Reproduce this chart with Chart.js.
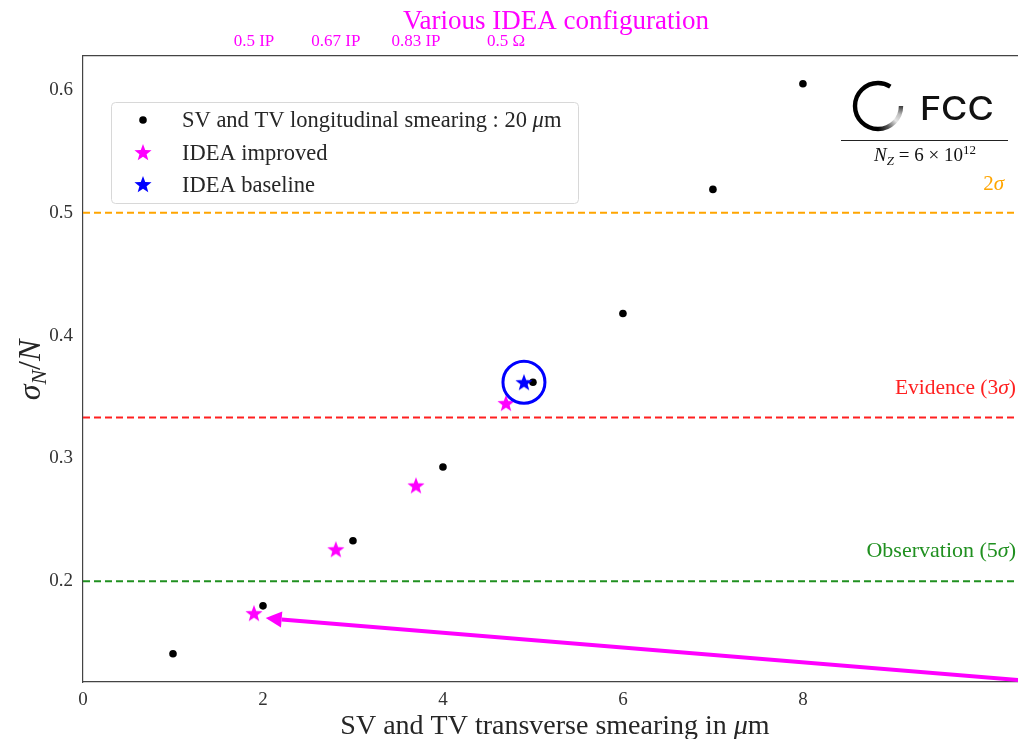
<!DOCTYPE html>
<html>
<head>
<meta charset="utf-8">
<script src="https://cdn.jsdelivr.net/npm/chart.js@4.4.1/dist/chart.umd.min.js"></script>
<style>
  html, body { margin: 0; padding: 0; background: #fff; overflow: hidden; }
  #wrap { width: 1018px; height: 739px; position: relative; }
</style>
</head>
<body>
<div id="wrap"><canvas id="c" width="1018" height="739"></canvas></div>
<script>
// Transverse smearing scan (longitudinal smearing fixed at 20 um)
const smearX = [1, 2, 3, 4, 5, 6, 7, 8];
const smearSigma = [0.141, 0.180, 0.233, 0.293, 0.362, 0.418, 0.519, 0.605];

// IDEA detector configurations
const improvedX = [1.9, 2.81, 3.7, 4.7];
const improvedSigma = [0.174, 0.226, 0.278, 0.345];
const baselineX = [4.9];
const baselineSigma = [0.362];

// Top axis: configuration names
const configTicks = [1.9, 2.81, 3.7, 4.7];
const configLabels = ['0.5 IP', '0.67 IP', '0.83 IP', '0.5 \u03A9'];

// Significance thresholds
const thresholdValues = [0.5, 1 / 3, 0.2];
const thresholdColors = ['#ffa500', '#ff2020', '#209020'];

// Bottom / left axis ticks
const xTicks = [0, 2, 4, 6, 8];
const yTicks = [0.2, 0.3, 0.4, 0.5, 0.6];

// Pointer arrow (tail -> head) in data coordinates
const arrowX = [10.4, 2.03];
const arrowY = [0.1195, 0.170];

const X_MIN = 0, X_MAX = 10.39;
const Y_MIN = 0.118, Y_MAX = 0.6276;
const SERIF = '"Liberation Serif", "DejaVu Serif", serif';

function starPath(g, cx, cy, r) {
  g.beginPath();
  for (let i = 0; i < 10; i++) {
    const rad = i % 2 === 0 ? r : r * 0.42;
    const a = -Math.PI / 2 + i * Math.PI / 5;
    const px = cx + rad * Math.cos(a), py = cy + rad * Math.sin(a);
    if (i === 0) g.moveTo(px, py); else g.lineTo(px, py);
  }
  g.closePath();
}

function starImage(color, r) {
  const size = Math.ceil(r * 2 + 2);
  const c = document.createElement('canvas');
  c.width = size; c.height = size;
  const g = c.getContext('2d');
  starPath(g, size / 2, size / 2 + r * 0.08, r);
  g.fillStyle = color;
  g.fill();
  return c;
}
const magentaStar = starImage('#ff00ff', 9);
const blueStar = starImage('#0000ff', 9);

const pts = (xs, ys) => xs.map((x, i) => ({ x, y: ys[i] }));

const datasets = [];
thresholdValues.forEach((v, i) => {
  datasets.push({
    type: 'line',
    data: [{ x: X_MIN, y: v }, { x: X_MAX, y: v }],
    borderColor: thresholdColors[i],
    borderWidth: 2,
    borderDash: [7, 4],
    pointRadius: 0,
    order: 10
  });
});
datasets.push({
  data: pts(smearX, smearSigma),
  pointStyle: 'circle', pointRadius: 3.8,
  backgroundColor: '#000', borderColor: '#000', borderWidth: 0, order: 5
});
datasets.push({
  data: pts(improvedX, improvedSigma),
  pointStyle: magentaStar, order: 4
});
datasets.push({
  data: pts(baselineX, baselineSigma),
  pointStyle: blueStar, order: 3
});
// ring highlighting the baseline configuration
datasets.push({
  data: pts(baselineX, baselineSigma),
  pointStyle: 'circle', pointRadius: 21,
  backgroundColor: 'rgba(0,0,0,0)', borderColor: '#0000ff', borderWidth: 3, order: 2
});

// Draws a run of text pieces; each piece may be italic, subscript or superscript.
function richText(ctx, pieces, x, y, align) {
  let total = 0;
  const fonts = pieces.map(p => {
    const f = (p.italic ? 'italic ' : '') + (p.weight ? p.weight + ' ' : '') + p.size + 'px ' + (p.family || SERIF);
    ctx.font = f;
    const w = ctx.measureText(p.t).width;
    total += w;
    return { f, w };
  });
  let cx = align === 'center' ? x - total / 2 : align === 'right' ? x - total : x;
  ctx.textAlign = 'left';
  pieces.forEach((p, i) => {
    ctx.font = fonts[i].f;
    ctx.fillStyle = p.color;
    ctx.fillText(p.t, cx, y + (p.dy || 0));
    cx += fonts[i].w;
  });
}

const decorations = {
  id: 'decorations',
  afterDatasetsDraw(chart) {
    const ctx = chart.ctx;
    const xs = chart.scales.x, ys = chart.scales.y;
    // arrow
    const x1 = xs.getPixelForValue(arrowX[0]), y1 = ys.getPixelForValue(arrowY[0]);
    const x2 = xs.getPixelForValue(arrowX[1]), y2 = ys.getPixelForValue(arrowY[1]);
    const ang = Math.atan2(y2 - y1, x2 - x1);
    const headLen = 16, headW = 8;
    const bx = x2 - headLen * Math.cos(ang), by = y2 - headLen * Math.sin(ang);
    ctx.save();
    ctx.strokeStyle = '#ff00ff';
    ctx.fillStyle = '#ff00ff';
    ctx.lineWidth = 4;
    ctx.beginPath();
    ctx.moveTo(x1, y1);
    ctx.lineTo(bx, by);
    ctx.stroke();
    ctx.beginPath();
    ctx.moveTo(x2, y2);
    ctx.lineTo(bx + headW * Math.sin(ang), by - headW * Math.cos(ang));
    ctx.lineTo(bx - headW * Math.sin(ang), by + headW * Math.cos(ang));
    ctx.closePath();
    ctx.fill();
    ctx.restore();
  },
  afterDraw(chart) {
    const ctx = chart.ctx;
    ctx.save();
    ctx.textBaseline = 'alphabetic';
    const ink = '#262626';

    // top title
    richText(ctx, [{ t: 'Various IDEA configuration', size: 27, color: '#ff00ff' }], 556, 29, 'center');

    // x axis title
    richText(ctx, [
      { t: 'SV and TV transverse smearing in ', size: 28, color: ink },
      { t: '\u03BC', size: 28, italic: true, color: ink },
      { t: 'm', size: 28, color: ink }
    ], 555, 734, 'center');

    // y axis title
    ctx.save();
    ctx.translate(40, 370);
    ctx.rotate(-Math.PI / 2);
    richText(ctx, [
      { t: '\u03C3', size: 32, italic: true, color: ink },
      { t: 'N', size: 22, italic: true, color: ink, dy: 6 },
      { t: '/', size: 32, color: ink },
      { t: 'N', size: 32, italic: true, color: ink }
    ], 0, 0, 'center');
    ctx.restore();

    // threshold labels
    richText(ctx, [{ t: '2', size: 21, color: '#ffa500' }, { t: '\u03C3', size: 21, italic: true, color: '#ffa500' }], 1004, 190, 'right');
    richText(ctx, [{ t: 'Evidence (3', size: 21.5, color: '#ff2020' }, { t: '\u03C3', size: 21.5, italic: true, color: '#ff2020' }, { t: ')', size: 21.5, color: '#ff2020' }], 1016, 394, 'right');
    richText(ctx, [{ t: 'Observation (5', size: 22, color: '#209020' }, { t: '\u03C3', size: 22, italic: true, color: '#209020' }, { t: ')', size: 22, color: '#209020' }], 1016, 557, 'right');

    // legend
    const lx = 111, ly = 102, lw = 467, lh = 101;
    ctx.beginPath();
    ctx.roundRect(lx + 0.5, ly + 0.5, lw, lh, 4);
    ctx.fillStyle = 'rgba(255,255,255,0.8)';
    ctx.fill();
    ctx.strokeStyle = '#d8d8d8';
    ctx.lineWidth = 1;
    ctx.stroke();
    ctx.beginPath();
    ctx.arc(143, 120, 3.8, 0, Math.PI * 2);
    ctx.fillStyle = '#000';
    ctx.fill();
    starPath(ctx, 143, 153, 9); ctx.fillStyle = '#ff00ff'; ctx.fill();
    starPath(ctx, 143, 185, 9); ctx.fillStyle = '#0000ff'; ctx.fill();
    richText(ctx, [
      { t: 'SV and TV longitudinal smearing : 20 ', size: 22.5, color: ink },
      { t: '\u03BC', size: 22.5, italic: true, color: ink },
      { t: 'm', size: 22.5, color: ink }
    ], 182, 127, 'left');
    richText(ctx, [{ t: 'IDEA improved', size: 22.5, color: ink }], 182, 160, 'left');
    richText(ctx, [{ t: 'IDEA baseline', size: 22.5, color: ink }], 182, 192, 'left');

    // FCC logo: open ring with a faded lower-right sweep
    const lcx = 878, lcy = 106, lr = 23;
    const a0 = 0.0 * Math.PI, a1 = 1.68 * Math.PI;
    ctx.lineWidth = 4.4;
    ctx.beginPath();
    ctx.arc(lcx, lcy, lr, a0, a1, false);
    if (ctx.createConicGradient) {
      const cg = ctx.createConicGradient(0, lcx, lcy);
      cg.addColorStop(0, '#3a3a3a');
      cg.addColorStop(0.06, '#bdbdbd');
      cg.addColorStop(0.11, '#e6e6e6');
      cg.addColorStop(0.18, '#555');
      cg.addColorStop(0.25, '#000');
      cg.addColorStop(1, '#000');
      ctx.strokeStyle = cg;
    } else {
      ctx.strokeStyle = '#000';
    }
    ctx.stroke();
    ctx.save();
    ctx.translate(920, 120);
    ctx.scale(1.12, 1);
    richText(ctx, [{ t: 'FCC', size: 32, weight: 500, color: '#111', family: 'Inter, "Open Sans", "Liberation Sans", sans-serif' }], 0, 0, 'left');
    ctx.restore();
    ctx.beginPath();
    ctx.moveTo(841, 140.5);
    ctx.lineTo(1008, 140.5);
    ctx.strokeStyle = '#222';
    ctx.lineWidth = 1;
    ctx.stroke();
    richText(ctx, [
      { t: 'N', size: 19, italic: true, color: '#111' },
      { t: 'Z', size: 13, italic: true, color: '#111', dy: 4 },
      { t: ' = 6 \u00D7 10', size: 19, color: '#111' },
      { t: '12', size: 13, color: '#111', dy: -7 }
    ], 925, 161, 'center');

    ctx.restore();
  }
};

const fixedTicks = (vals) => (scale) => { scale.ticks = vals.map(v => ({ value: v })); };
const noHPad = (h) => (s) => { s.height = h; s.paddingLeft = 0; s.paddingRight = 0; };

new Chart(document.getElementById('c'), {
  type: 'scatter',
  data: { datasets },
  options: {
    responsive: false,
    animation: false,
    events: [],
    layout: { padding: 0, autoPadding: false },
    plugins: { legend: { display: false }, title: { display: false }, tooltip: { enabled: false } },
    scales: {
      x: {
        type: 'linear', position: 'bottom', min: X_MIN, max: X_MAX,
        afterBuildTicks: fixedTicks(xTicks),
        afterFit: noHPad(57),
        grid: { display: false, drawTicks: true, tickLength: 5, tickColor: '#444' },
        border: { display: true, color: '#444', width: 1.2 },
        ticks: { color: '#333', font: { family: SERIF, size: 19 }, padding: 2, maxRotation: 0, callback: (v) => String(v) }
      },
      x2: {
        type: 'linear', position: 'top', min: X_MIN, max: X_MAX,
        afterBuildTicks: fixedTicks(configTicks),
        afterFit: noHPad(56),
        grid: { display: false, drawTicks: true, tickLength: 5, tickColor: '#ff00ff' },
        border: { display: true, color: '#444', width: 1.2 },
        ticks: {
          color: '#ff00ff', font: { family: SERIF, size: 17 }, padding: -1, maxRotation: 0, autoSkip: false,
          callback: (v) => configLabels[configTicks.indexOf(v)]
        }
      },
      y: {
        type: 'linear', position: 'left', min: Y_MIN, max: Y_MAX,
        afterBuildTicks: fixedTicks(yTicks),
        afterFit: (s) => { s.width = 83; s.paddingTop = 0; s.paddingBottom = 0; },
        grid: { display: false, drawTicks: true, tickLength: 5, tickColor: '#444' },
        border: { display: true, color: '#444', width: 1.2 },
        ticks: { color: '#333', font: { family: SERIF, size: 19 }, padding: 5, callback: (v) => v.toFixed(1) }
      }
    }
  },
  plugins: [decorations]
});
</script>
</body>
</html>
